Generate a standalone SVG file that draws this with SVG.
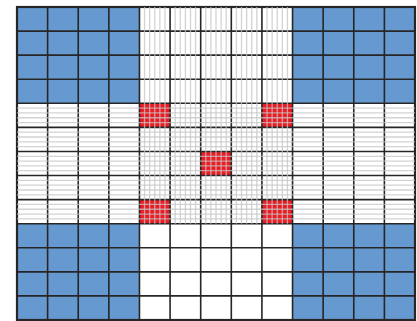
<svg xmlns="http://www.w3.org/2000/svg" width="417" height="321" viewBox="0 0 417 321">
<style>
.blue{fill:#6699cf}
.red{fill:#ec1c24}
.fine{stroke:#c4c4c4;stroke-width:1.3;fill:none;stroke-opacity:0.75}
.grid{stroke:#262626;stroke-width:1.6;fill:none}
.border{stroke:#262626;stroke-width:2.2;fill:none}
</style>
<rect x="0" y="0" width="417" height="321" fill="#ffffff"/>
<g id="blocks">
<rect class="blue" x="17" y="7" width="122.46" height="96.31"/>
<rect class="blue" x="292.54" y="7" width="122.46" height="96.31"/>
<rect class="blue" x="17" y="223.69" width="122.46" height="96.31"/>
<rect class="blue" x="292.54" y="223.69" width="122.46" height="96.31"/>
</g>
<g id="red-cells">
<rect class="red" x="139.46" y="103.31" width="30.62" height="24.07"/>
<rect class="red" x="261.92" y="103.31" width="30.62" height="24.07"/>
<rect class="red" x="200.69" y="151.46" width="30.62" height="24.08"/>
<rect class="red" x="139.46" y="199.62" width="30.62" height="24.07"/>
<rect class="red" x="261.92" y="199.62" width="30.62" height="24.07"/>
</g>
<g id="grid">
<path class="grid" d="M47.62 7V320M78.23 7V320M108.85 7V320M139.46 7V320M170.08 7V320M200.69 7V320M231.31 7V320M261.92 7V320M292.54 7V320M323.15 7V320M353.77 7V320M384.38 7V320"/>
<path class="grid" d="M17 31.08H415M17 55.15H415M17 79.23H415M17 103.31H415M17 127.38H415M17 151.46H415M17 175.54H415M17 199.62H415M17 223.69H415M17 247.77H415M17 271.85H415M17 295.92H415"/>
<rect class="border" x="17" y="7" width="398" height="313"/>
</g>
<g id="fine-mesh">
<path class="fine" d="M144.56 7V223.69M149.67 7V223.69M154.77 7V223.69M159.87 7V223.69M164.97 7V223.69M175.18 7V223.69M180.28 7V223.69M185.39 7V223.69M190.49 7V223.69M195.59 7V223.69M205.79 7V223.69M210.9 7V223.69M216 7V223.69M221.1 7V223.69M226.2 7V223.69M236.41 7V223.69M241.51 7V223.69M246.62 7V223.69M251.72 7V223.69M256.82 7V223.69M267.02 7V223.69M272.13 7V223.69M277.23 7V223.69M282.33 7V223.69M287.43 7V223.69"/>
<path class="fine" d="M17 108.13H415M17 112.94H415M17 117.76H415M17 122.57H415M17 132.2H415M17 137.01H415M17 141.83H415M17 146.64H415M17 156.28H415M17 161.09H415M17 165.91H415M17 170.72H415M17 180.36H415M17 185.17H415M17 189.99H415M17 194.8H415M17 204.43H415M17 209.25H415M17 214.06H415M17 218.88H415"/>
</g>
</svg>
